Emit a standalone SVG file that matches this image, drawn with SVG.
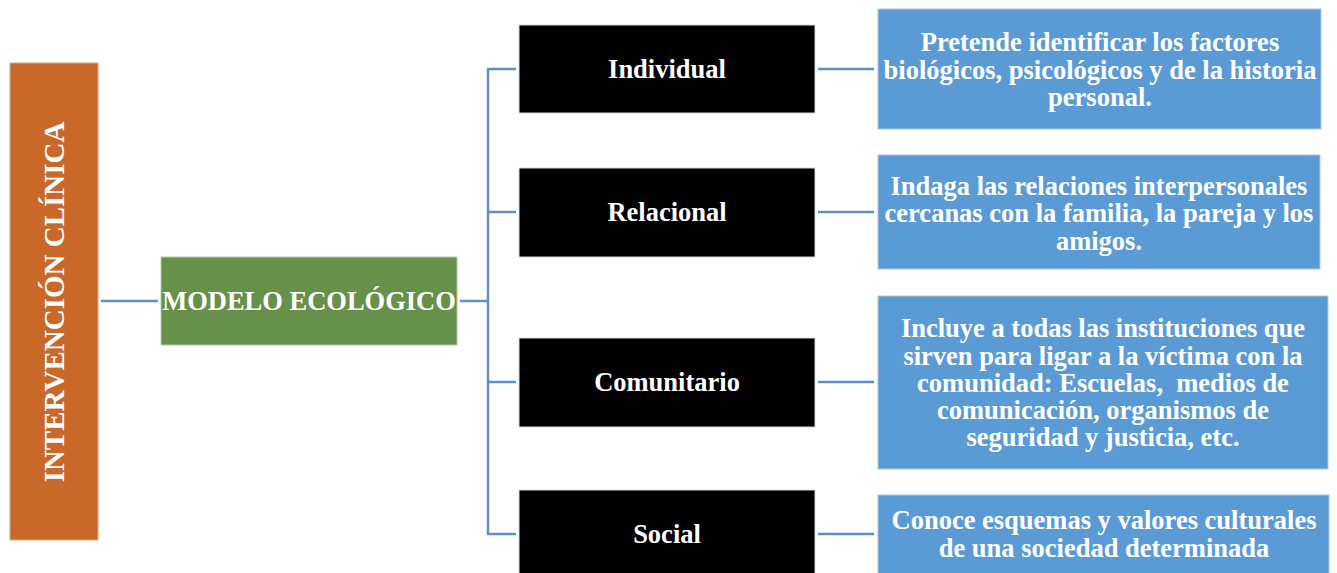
<svg xmlns="http://www.w3.org/2000/svg" width="1337" height="573" viewBox="0 0 1337 573">
<style>
.t{font-family:"Liberation Serif","Times New Roman",serif;font-weight:bold;fill:#ffffff;text-anchor:middle;}
.m{font-size:26.5px;}
.v{font-size:29px;}
.d{font-size:26.5px;}
.blk{fill:#000000;stroke:#d9d9d9;stroke-width:1;}
.blu{fill:#5B9BD5;stroke:#a9c6e8;stroke-width:1;}
.c{stroke:#5B8FC8;stroke-width:2.5;fill:none;}
</style>
<rect width="1337" height="573" fill="#ffffff"/>
<g id="connectors">
<line class="c" x1="101" y1="301" x2="158" y2="301"/>
<line class="c" x1="460" y1="301" x2="488" y2="301"/>
<line class="c" x1="488" y1="69" x2="488" y2="534"/>
<line class="c" x1="487" y1="69" x2="516" y2="69"/>
<line class="c" x1="487" y1="212" x2="516" y2="212"/>
<line class="c" x1="487" y1="382" x2="516" y2="382"/>
<line class="c" x1="487" y1="534" x2="516" y2="534"/>
<line class="c" x1="818" y1="69" x2="874" y2="69"/>
<line class="c" x1="818" y1="212" x2="874" y2="212"/>
<line class="c" x1="818" y1="382" x2="874" y2="382"/>
<line class="c" x1="818" y1="534" x2="874" y2="534"/>
</g>
<g id="intervencion">
<rect x="10" y="63" width="88" height="477" fill="#C8692A" stroke="#e0a47c" stroke-width="1"/>
<text class="t v" transform="translate(64,302) rotate(-90)">INTERVENCIÓN CLÍNICA</text>
</g>
<g id="modelo">
<rect x="161" y="257" width="296" height="88" fill="#67904A" stroke="#b5cba5" stroke-width="1"/>
<text class="t m" x="309" y="310">MODELO ECOLÓGICO</text>
</g>
<g id="individual">
<rect class="blk" x="519" y="25" width="296" height="88"/>
<text class="t m" x="667" y="78">Individual</text>
</g>
<g id="relacional">
<rect class="blk" x="519" y="168" width="296" height="89"/>
<text class="t m" x="667" y="221">Relacional</text>
</g>
<g id="comunitario">
<rect class="blk" x="519" y="338" width="296" height="89"/>
<text class="t m" x="667" y="391">Comunitario</text>
</g>
<g id="social">
<rect class="blk" x="519" y="490" width="296" height="90"/>
<text class="t m" x="667" y="543">Social</text>
</g>
<g id="desc-individual">
<rect class="blu" x="878" y="9" width="443" height="120"/>
<text class="t d" x="1100" y="51">Pretende identificar los factores</text>
<text class="t d" x="1100" y="79">biológicos, psicológicos y de la historia</text>
<text class="t d" x="1100" y="106">personal.</text>
</g>
<g id="desc-relacional">
<rect class="blu" x="878" y="155" width="442" height="114"/>
<text class="t d" x="1099" y="195">Indaga las relaciones interpersonales</text>
<text class="t d" x="1099" y="222">cercanas con la familia, la pareja y los</text>
<text class="t d" x="1099" y="250">amigos.</text>
</g>
<g id="desc-comunitario">
<rect class="blu" x="878" y="296" width="450" height="173"/>
<text class="t d" x="1103" y="337">Incluye a todas las instituciones que</text>
<text class="t d" x="1103" y="365">sirven para ligar a la víctima con la</text>
<text class="t d" x="1103" y="392" xml:space="preserve">comunidad: Escuelas,  medios de</text>
<text class="t d" x="1103" y="419">comunicación, organismos de</text>
<text class="t d" x="1103" y="446">seguridad y justicia, etc.</text>
</g>
<g id="desc-social">
<rect class="blu" x="878" y="495" width="451" height="90"/>
<text class="t d" x="1104" y="529">Conoce esquemas y valores culturales</text>
<text class="t d" x="1104" y="557">de una sociedad determinada</text>
</g>
</svg>
